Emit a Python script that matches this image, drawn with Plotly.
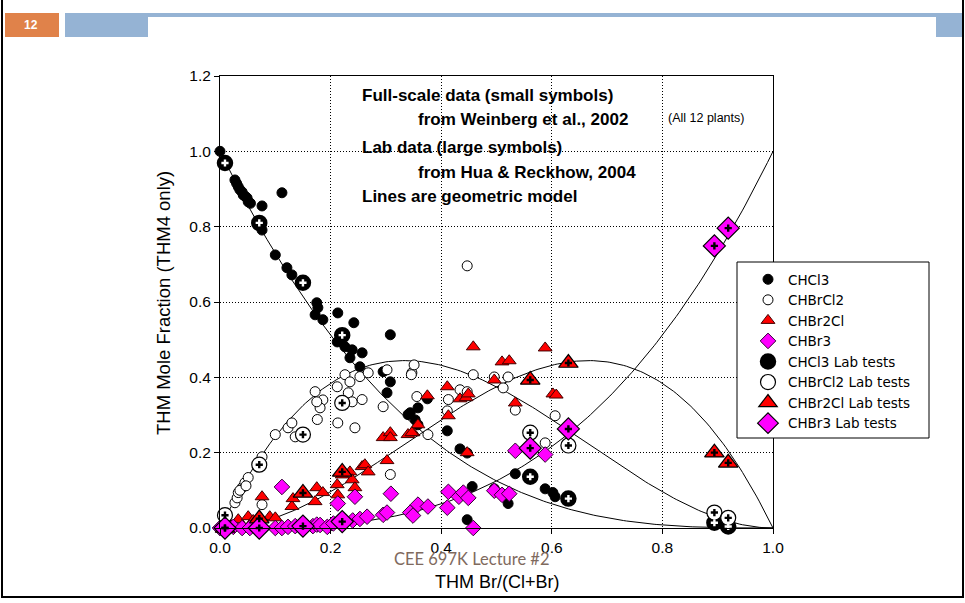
import numpy as np
import plotly.graph_objects as go

# ---------------- data ----------------
chcl3_x = [0.000, 0.027, 0.030, 0.033, 0.036, 0.040, 0.042, 0.046, 0.049, 0.051, 0.055, 0.076, 0.112,
           0.076, 0.100, 0.121, 0.130, 0.175, 0.177, 0.172, 0.186, 0.213, 0.242, 0.308, 0.212, 0.226,
           0.239, 0.257, 0.235, 0.253, 0.295, 0.308, 0.302, 0.340, 0.353, 0.358, 0.344, 0.358, 0.375,
           0.411, 0.434, 0.447, 0.456, 0.447, 0.496, 0.510, 0.534, 0.521, 0.588, 0.602, 0.606]
chcl3_y = [1.000, 0.924, 0.915, 0.906, 0.898, 0.892, 0.884, 0.880, 0.876, 0.866, 0.862, 0.855, 0.890,
           0.791, 0.725, 0.691, 0.672, 0.598, 0.585, 0.566, 0.553, 0.571, 0.545, 0.513, 0.494, 0.481,
           0.473, 0.465, 0.452, 0.428, 0.415, 0.388, 0.359, 0.301, 0.287, 0.274, 0.306, 0.319, 0.343,
           0.258, 0.210, 0.199, 0.110, 0.022, 0.104, 0.091, 0.144, 0.065, 0.104, 0.094, 0.083]

chbrcl2_x = [0.027, 0.031, 0.033, 0.040, 0.045, 0.051, 0.036, 0.047, 0.076, 0.076, 0.100, 0.123,
             0.130, 0.136, 0.172, 0.186, 0.181, 0.176, 0.175, 0.213, 0.244, 0.212, 0.226, 0.235,
             0.232, 0.239, 0.257, 0.253, 0.268, 0.295, 0.302, 0.347, 0.308, 0.356, 0.351, 0.346,
             0.458, 0.496, 0.521, 0.512, 0.434, 0.447, 0.413, 0.411, 0.376, 0.534, 0.606, 0.588,
             0.447]
chbrcl2_y = [0.067, 0.080, 0.094, 0.107, 0.120, 0.134, 0.100, 0.112, 0.062, 0.189, 0.248, 0.266,
             0.279, 0.242, 0.362, 0.340, 0.319, 0.288, 0.335, 0.279, 0.266, 0.375, 0.407, 0.388,
             0.359, 0.335, 0.341, 0.402, 0.412, 0.322, 0.420, 0.412, 0.142, 0.349, 0.433, 0.407,
             0.407, 0.401, 0.401, 0.372, 0.367, 0.362, 0.341, 0.311, 0.248, 0.313, 0.298, 0.226,
             0.696]

chbr2cl_x = [0.014, 0.033, 0.051, 0.060, 0.072, 0.090, 0.076, 0.100, 0.130, 0.132, 0.175, 0.172,
             0.186, 0.212, 0.213, 0.221, 0.235, 0.257, 0.262, 0.268, 0.239, 0.244, 0.302, 0.295,
             0.308, 0.308, 0.340, 0.349, 0.458, 0.411, 0.375, 0.434, 0.445, 0.449, 0.413, 0.358,
             0.347, 0.447, 0.510, 0.523, 0.496, 0.534, 0.588, 0.602, 0.608]
chbr2cl_y = [0.017, 0.022, 0.030, 0.020, 0.027, 0.030, 0.083, 0.027, 0.057, 0.078, 0.107, 0.070,
             0.094, 0.115, 0.088, 0.141, 0.149, 0.163, 0.168, 0.149, 0.128, 0.107, 0.179, 0.240,
             0.253, 0.240, 0.248, 0.253, 0.481, 0.375, 0.351, 0.343, 0.346, 0.356, 0.298, 0.274,
             0.253, 0.200, 0.441, 0.444, 0.393, 0.332, 0.478, 0.356, 0.353]

chbr3_x = [0.000, 0.013, 0.024, 0.040, 0.054, 0.100, 0.112, 0.123, 0.136, 0.168, 0.175, 0.181,
           0.194, 0.205, 0.240, 0.253, 0.266, 0.295, 0.302, 0.112, 0.213, 0.244, 0.309, 0.344,
           0.349, 0.358, 0.376, 0.413, 0.411, 0.432, 0.440, 0.449, 0.496, 0.510, 0.523, 0.458,
           0.534, 0.588]
chbr3_y = [0.000, 0.000, 0.003, 0.000, 0.000, 0.000, 0.000, 0.003, 0.005, 0.005, 0.009, 0.008,
           0.003, 0.012, 0.020, 0.024, 0.030, 0.035, 0.041, 0.109, 0.065, 0.083, 0.091, 0.041,
           0.033, 0.062, 0.057, 0.096, 0.054, 0.083, 0.094, 0.080, 0.099, 0.088, 0.091, 0.000,
           0.205, 0.195]

lab_x = [0.009, 0.071, 0.150, 0.221, 0.561, 0.630, 0.894, 0.919]
lab_chcl3 = [0.969, 0.810, 0.651, 0.512, 0.136, 0.078, 0.014, 0.004]
lab_chbrcl2 = [0.034, 0.168, 0.248, 0.332, 0.253, 0.219, 0.041, 0.027]
lab_chbr2cl = [0.000, 0.025, 0.093, 0.149, 0.393, 0.438, 0.200, 0.173]
lab_chbr3 = [0.000, 0.000, 0.005, 0.017, 0.212, 0.263, 0.749, 0.796]

tick_vals = [0.0, 0.2, 0.4, 0.6, 0.8, 1.0, 1.2]
tick_text = ["0.0", "0.2", "0.4", "0.6", "0.8", "1.0", "1.2"]

# geometric (binomial) model for the four THM species
model_p = np.linspace(0, 1, 201)
model_curves = [
    (1 - model_p) ** 3,
    3 * model_p * (1 - model_p) ** 2,
    3 * model_p ** 2 * (1 - model_p),
    model_p ** 3,
]

# ---------------- figure ----------------
FONT = "Arial, Liberation Sans, sans-serif"
W, H = 965, 603
ML, MR, MT, MB = 220, 192, 76, 75
PW, PH = W - ML - MR, H - MT - MB


def X(px):
    return (px - ML) / PW


def Y(py):
    return (H - MB - py) / PH


fig = go.Figure()

for curve in model_curves:
    fig.add_trace(go.Scatter(x=model_p, y=curve, mode="lines", showlegend=False,
                             line=dict(color="black", width=1), hoverinfo="skip"))

fig.add_trace(go.Scatter(x=chcl3_x, y=chcl3_y, mode="markers", name="CHCl3",
                         marker=dict(symbol="circle", size=10, color="black",
                                     line=dict(color="black", width=1))))
fig.add_trace(go.Scatter(x=chbrcl2_x, y=chbrcl2_y, mode="markers", name="CHBrCl2",
                         marker=dict(symbol="circle", size=10, color="white",
                                     line=dict(color="black", width=1))))
fig.add_trace(go.Scatter(x=chbr2cl_x, y=chbr2cl_y, mode="markers", name="CHBr2Cl",
                         marker=dict(symbol="triangle-up", size=12, color="#FF0000",
                                     line=dict(color="#400000", width=1))))
fig.add_trace(go.Scatter(x=chbr3_x, y=chbr3_y, mode="markers", name="CHBr3",
                         marker=dict(symbol="diamond", size=12, color="#FF00FF",
                                     line=dict(color="#300030", width=1))))

lab_specs = [
    ("CHCl3 Lab tests", lab_chcl3, "circle", 14, "black", 2.5, "white"),
    ("CHBrCl2 Lab tests", lab_chbrcl2, "circle", 15, "white", 1.2, "black"),
    ("CHBr2Cl Lab tests", lab_chbr2cl, "triangle-up", 17, "#FF0000", 1.2, "black"),
    ("CHBr3 Lab tests", lab_chbr3, "diamond", 17, "#FF00FF", 1.2, "black"),
]
for name, ys, sym, size, col, lw, plus in lab_specs:
    fig.add_trace(go.Scatter(x=lab_x, y=ys, mode="markers", name=name,
                             marker=dict(symbol=sym, size=size, color=col,
                                         line=dict(color="black", width=lw))))
for name, ys, sym, size, col, lw, plus in lab_specs:
    fig.add_trace(go.Scatter(x=lab_x, y=ys, mode="markers", showlegend=False, hoverinfo="skip",
                             marker=dict(symbol="cross", size=6, color=plus,
                                         line=dict(width=0))))

fig.update_traces(cliponaxis=False, selector=dict(mode="markers"))

axis_common = dict(
    showline=True, linecolor="black", linewidth=1, mirror=True,
    ticks="outside", ticklen=5, tickcolor="black", tickwidth=1,
    showgrid=True, gridcolor="black", gridwidth=1, griddash="1px,2px",
    zeroline=False, tickfont=dict(family=FONT, size=15.5, color="black"),
)
fig.update_xaxes(range=[0, 1], tickvals=tick_vals[:6], ticktext=tick_text[:6], **axis_common)
fig.update_yaxes(range=[0, 1.2], tickvals=tick_vals, ticktext=tick_text, **axis_common)

shapes = []
# slide decorations
shapes.append(dict(type="rect", xref="paper", yref="paper", x0=X(5), x1=X(59), y0=Y(13), y1=Y(37),
                   fillcolor="#E0824A", line=dict(width=0), layer="above"))
shapes.append(dict(type="rect", xref="paper", yref="paper", x0=X(65), x1=X(148), y0=Y(13), y1=Y(37),
                   fillcolor="#95B3D4", line=dict(width=0), layer="above"))
shapes.append(dict(type="rect", xref="paper", yref="paper", x0=X(148), x1=X(936), y0=Y(13), y1=Y(17),
                   fillcolor="#95B3D4", line=dict(width=0), layer="above"))
shapes.append(dict(type="rect", xref="paper", yref="paper", x0=X(936), x1=X(962), y0=Y(13), y1=Y(37),
                   fillcolor="#95B3D4", line=dict(width=0), layer="above"))
shapes.append(dict(type="line", xref="paper", yref="paper", x0=X(2), x1=X(2), y0=Y(0), y1=Y(598),
                   line=dict(color="black", width=2)))
shapes.append(dict(type="line", xref="paper", yref="paper", x0=X(963), x1=X(963), y0=Y(0), y1=Y(598),
                   line=dict(color="black", width=2)))
shapes.append(dict(type="line", xref="paper", yref="paper", x0=X(2), x1=X(963), y0=Y(597), y1=Y(597),
                   line=dict(color="black", width=2)))
# legend frame
shapes.append(dict(type="rect", xref="paper", yref="paper", x0=X(737), x1=X(929), y0=Y(262), y1=Y(438),
                   fillcolor="white", line=dict(color="black", width=1), layer="above"))

ann = []


def txt(s, px, py, size=14, bold=False, anchor="left", color="black", family=FONT, angle=0):
    ann.append(dict(text=("<b>%s</b>" % s) if bold else s, xref="paper", yref="paper",
                    x=X(px), y=Y(py), xanchor=anchor, yanchor="middle", showarrow=False,
                    textangle=angle, font=dict(family=family, size=size, color=color)))


txt("Full-scale data (small symbols)", 360, 95, size=17, bold=True)
txt("from Weinberg et al., 2002", 416, 119, size=17, bold=True)
txt("(All 12 plants)", 666, 118, size=12.5)
txt("Lab data (large symbols)", 360, 147, size=17, bold=True)
txt("from Hua &amp; Reckhow, 2004", 416, 172, size=17, bold=True)
txt("Lines are geometric model", 360, 196, size=17, bold=True)
txt("THM Br/(Cl+Br)", 497, 582, size=18, anchor="center")
txt("THM Mole Fraction (THM4 only)", 163, 303, size=18.5, anchor="center", angle=-90)
txt("CEE 697K Lecture #2", 472, 559, size=16.5, anchor="center", color="#7F6A5E", family="Lato, sans-serif")
txt("12", 31, 25, size=12, bold=True, anchor="center", color="white")

fig.update_layout(
    width=W, height=H,
    margin=dict(l=ML, r=MR, t=MT, b=MB, autoexpand=False),
    paper_bgcolor="white", plot_bgcolor="white",
    shapes=shapes, annotations=ann,
    showlegend=True,
    legend=dict(x=X(748), y=Y(264), xanchor="left", yanchor="top",
                bgcolor="rgba(0,0,0,0)", borderwidth=0,
                font=dict(family="DejaVu Sans, sans-serif", size=13.5, color="black"),
                itemsizing="trace"),
    font=dict(family=FONT),
)

fig.write_html("out.html", config={"displayModeBar": False},
               post_script="document.body.style.margin='0px';document.body.style.overflow='hidden';")
